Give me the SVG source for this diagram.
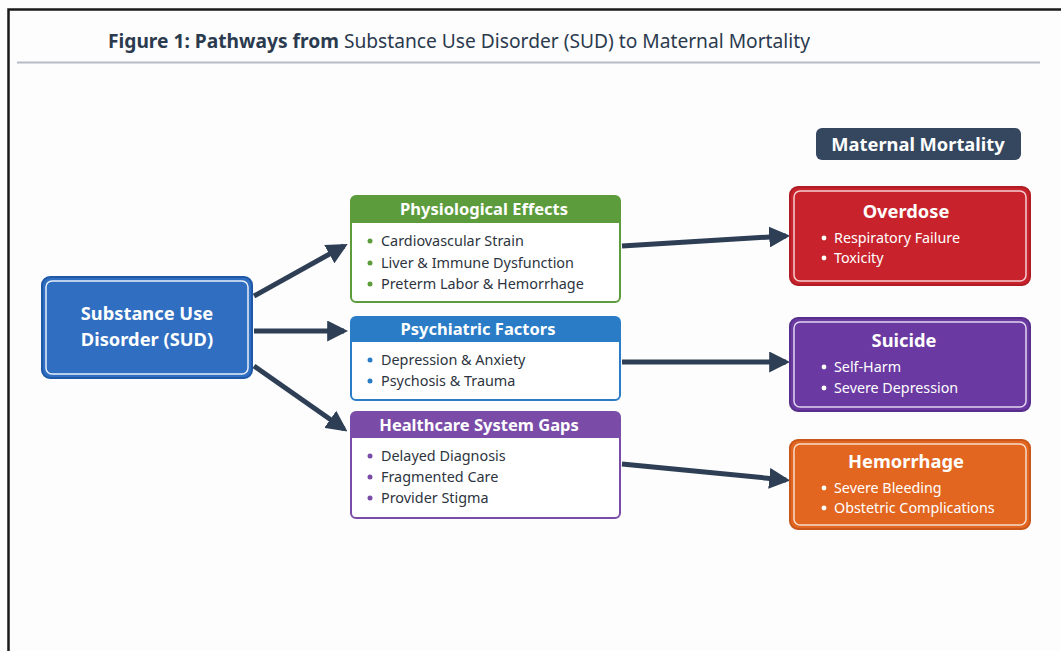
<svg xmlns="http://www.w3.org/2000/svg" width="1061" height="651" viewBox="0 0 1061 651">
<defs>
<marker id="ah" viewBox="0 0 10 10" refX="8" refY="5" markerWidth="4.2" markerHeight="4.2" orient="auto" markerUnits="strokeWidth">
<path d="M0,0 L10,5 L0,10 z" fill="#2d3e55"/>
</marker>
</defs>
<style>
text{font-family:"Noto Sans","Open Sans","DejaVu Sans",sans-serif}
.title{font-size:19.2px;fill:#2b3a4e}
.hd{font-size:16.5px;font-weight:bold;fill:#fff}
.it{font-size:14.4px;fill:#2d3440}
.wt{font-size:14.3px;fill:#fff}
.bt{font-size:18.3px;font-weight:bold;fill:#fff}
.conn{stroke:#2d3e55;stroke-width:5;fill:none;marker-end:url(#ah)}
</style>
<rect width="1061" height="651" fill="#fdfdfd"/>
<path d="M8.5,651 V9.5 H1061" fill="none" stroke="#1a1a1a" stroke-width="2.5"/>
<text x="108" y="48" class="title"><tspan font-weight="bold">Figure 1: Pathways from</tspan> Substance Use Disorder (SUD) to Maternal Mortality</text>
<line x1="17" y1="62.5" x2="1040" y2="62.5" stroke="#b5bcc4" stroke-width="2"/>

<g id="connectors">
<line class="conn" x1="254" y1="296" x2="344" y2="246"/>
<line class="conn" x1="254" y1="331" x2="344" y2="331"/>
<line class="conn" x1="254" y1="366" x2="344" y2="429"/>
<line class="conn" x1="622" y1="246" x2="786" y2="236"/>
<line class="conn" x1="622" y1="362" x2="786" y2="362"/>
<line class="conn" x1="622" y1="464" x2="786" y2="480"/>
</g>

<g id="sud">
<rect x="42" y="277" width="210" height="101" rx="8" fill="#2f6ec0" stroke="#1f58a6" stroke-width="2"/>
<rect x="46" y="281" width="202" height="93" rx="6" fill="none" stroke="#e8f0fa" stroke-width="1.5"/>
<text x="147" y="320" text-anchor="middle" class="bt" font-size="18.8">Substance Use</text>
<text x="147" y="346" text-anchor="middle" class="bt" font-size="18.8">Disorder (SUD)</text>
</g>

<g id="physiological">
<rect x="351" y="196" width="269" height="106" rx="5" fill="#fff" stroke="#5c9c3c" stroke-width="2"/>
<path d="M351,223 V201 a5,5 0 0 1 5,-5 H615 a5,5 0 0 1 5,5 V223 z" fill="#5c9c3c"/>
<text x="484" y="215" text-anchor="middle" class="hd">Physiological Effects</text>
<g fill="#5c9c3c"><circle cx="370" cy="241" r="2.5"/><circle cx="370" cy="263" r="2.5"/><circle cx="370" cy="284" r="2.5"/></g>
<text x="381" y="246" class="it">Cardiovascular Strain</text>
<text x="381" y="268" class="it">Liver &amp; Immune Dysfunction</text>
<text x="381" y="289" class="it">Preterm Labor &amp; Hemorrhage</text>
</g>

<g id="psychiatric">
<rect x="351" y="317" width="269" height="83" rx="5" fill="#fff" stroke="#2a7cc7" stroke-width="2"/>
<path d="M351,342 V322 a5,5 0 0 1 5,-5 H615 a5,5 0 0 1 5,5 V342 z" fill="#2a7cc7"/>
<text x="478" y="335" text-anchor="middle" class="hd">Psychiatric Factors</text>
<g fill="#2a7cc7"><circle cx="370" cy="360" r="2.5"/><circle cx="370" cy="381" r="2.5"/></g>
<text x="381" y="365" class="it">Depression &amp; Anxiety</text>
<text x="381" y="386" class="it">Psychosis &amp; Trauma</text>
</g>

<g id="healthcare">
<rect x="351" y="412" width="269" height="106" rx="5" fill="#fff" stroke="#7a4ca8" stroke-width="2"/>
<path d="M351,438 V417 a5,5 0 0 1 5,-5 H615 a5,5 0 0 1 5,5 V438 z" fill="#7a4ca8"/>
<text x="479" y="431" text-anchor="middle" class="hd">Healthcare System Gaps</text>
<g fill="#7a4ca8"><circle cx="370" cy="456" r="2.5"/><circle cx="370" cy="477" r="2.5"/><circle cx="370" cy="498" r="2.5"/></g>
<text x="381" y="461" class="it">Delayed Diagnosis</text>
<text x="381" y="482" class="it">Fragmented Care</text>
<text x="381" y="503" class="it">Provider Stigma</text>
</g>

<g id="maternal-mortality">
<rect x="816" y="128" width="205" height="32" rx="6" fill="#34475f"/>
<text x="918" y="151" text-anchor="middle" class="bt">Maternal Mortality</text>
</g>

<g id="overdose">
<rect x="790" y="187" width="240" height="98" rx="8" fill="#c8232c" stroke="#b01c24" stroke-width="2"/>
<rect x="794" y="191" width="232" height="90" rx="6" fill="none" stroke="#f3d0d2" stroke-width="1.5"/>
<text x="906" y="218" text-anchor="middle" class="bt">Overdose</text>
<g fill="#fff"><circle cx="824" cy="238" r="2.4"/><circle cx="824" cy="258" r="2.4"/></g>
<text x="834" y="243" class="wt">Respiratory Failure</text>
<text x="834" y="263" class="wt">Toxicity</text>
</g>

<g id="suicide">
<rect x="790" y="318" width="240" height="93" rx="8" fill="#6a3aa2" stroke="#58308c" stroke-width="2"/>
<rect x="794" y="322" width="232" height="85" rx="6" fill="none" stroke="#e2d6f0" stroke-width="1.5"/>
<text x="904" y="347" text-anchor="middle" class="bt">Suicide</text>
<g fill="#fff"><circle cx="824" cy="367" r="2.4"/><circle cx="824" cy="388" r="2.4"/></g>
<text x="834" y="372" class="wt">Self-Harm</text>
<text x="834" y="393" class="wt">Severe Depression</text>
</g>

<g id="hemorrhage">
<rect x="790" y="440" width="240" height="89" rx="8" fill="#e2661f" stroke="#c9561a" stroke-width="2"/>
<rect x="794" y="444" width="232" height="81" rx="6" fill="none" stroke="#f8dccb" stroke-width="1.5"/>
<text x="906" y="468" text-anchor="middle" class="bt">Hemorrhage</text>
<g fill="#fff"><circle cx="824" cy="488" r="2.4"/><circle cx="824" cy="508" r="2.4"/></g>
<text x="834" y="493" class="wt">Severe Bleeding</text>
<text x="834" y="513" class="wt">Obstetric Complications</text>
</g>
</svg>
